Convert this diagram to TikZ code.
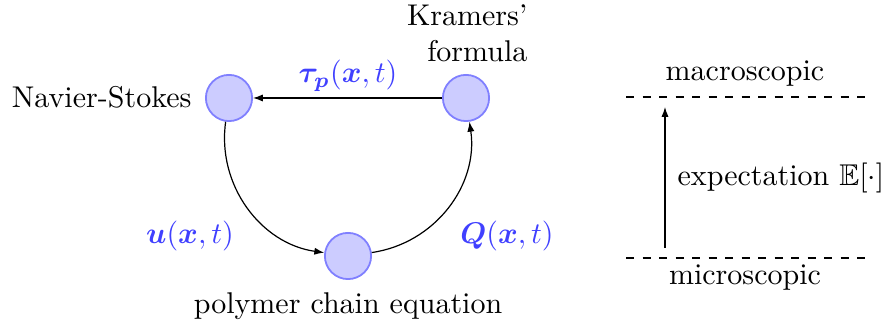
\documentclass[tikz,border=0pt]{standalone}
\usepackage{amsmath,amssymb}
\usetikzlibrary{arrows.meta}
\tikzset{
  state/.style={circle,draw=blue!50,fill=blue!20,line width=0.6pt,minimum size=15.4pt,inner sep=0pt},
  flow/.style={-{Latex[length=3.3pt,width=2.4pt]},line width=0.4pt},
  qty/.style={text=blue!75,inner sep=0pt},
  txt/.style={inner sep=0pt},
  level/.style={dash pattern=on 2.75pt off 2.75pt,line width=0.4pt}
}
\begin{document}
\begin{tikzpicture}[x=0.33333pt,y=-0.33333pt]
\useasboundingbox (0,0) rectangle (887,324);
\node[state] (ns) at (229,98) {};
\node[state] (kr) at (466,98) {};
\node[state] (pc) at (348,256) {};
\node[txt,anchor=base east] (nsl) at (192,108) {Navier-Stokes};
\node[txt,anchor=north east,align=right] (krl) at (528,4) {Kramers'\\formula};
\node[txt,anchor=base] (pcl) at (348,314) {polymer chain equation};
\draw[flow] (kr) -- (ns);
\draw[flow] (ns) to[bend right=45] (pc);
\draw[flow] (pc) to[bend right=45] (kr);
\node[qty] (tau) at (348,76) {$\boldsymbol{\tau_p}(\boldsymbol{x},t)$};
\node[qty] (u) at (190,236) {$\boldsymbol{u}(\boldsymbol{x},t)$};
\node[qty] (q) at (507,236) {$\boldsymbol{Q}(\boldsymbol{x},t)$};
% scale side
\coordinate (mal) at (626,97);
\coordinate (mar) at (865,97);
\coordinate (mil) at (626,258);
\coordinate (mir) at (865,258);
\draw[level] (mal) -- (mar);
\draw[level] (mil) -- (mir);
\node[txt,anchor=base] (mac) at (745,81) {macroscopic};
\node[txt,anchor=base] (mic) at (745,285) {microscopic};
\coordinate (eb) at (665,248);
\coordinate (et) at (665,107);
\draw[flow] (eb) -- (et);
\node[txt,anchor=west] (exp) at (677,178) {expectation $\mathbb{E}[\cdot]$};
\end{tikzpicture}
\end{document}
